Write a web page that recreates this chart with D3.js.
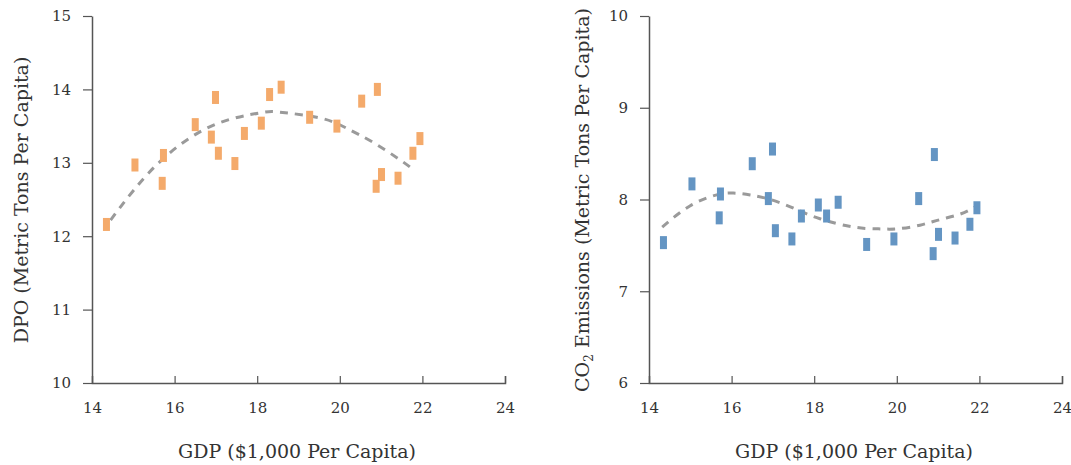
<!DOCTYPE html>
<html>
<head>
<meta charset="utf-8">
<script src="https://cdn.jsdelivr.net/npm/d3@7.9.0/dist/d3.min.js"></script>
<style>
  body { margin: 0; background: #fff; }
  text { font-family: "DejaVu Serif", "Liberation Serif", serif; fill: #333; }
</style>
</head>
<body>
<svg id="chart" width="1071" height="465"></svg>
<script>
// GDP per capita ($1,000), shared by both panels
const gdp = [14.35, 15.04, 15.70, 15.73, 16.50, 16.89, 16.99, 17.06, 17.46, 17.69, 18.10,
             18.30, 18.58, 19.27, 19.93, 20.53, 20.88, 20.91, 21.01, 21.41, 21.77, 21.94];

// left panel: DPO
const dpo = [12.16, 12.97, 12.72, 13.10, 13.52, 13.35, 13.89, 13.13, 12.99, 13.40, 13.54,
             13.93, 14.03, 13.62, 13.50, 13.84, 12.68, 14.00, 12.84, 12.79, 13.13, 13.33];

// right panel: CO2 emissions
const co2 = [7.53, 8.17, 7.80, 8.06, 8.39, 8.01, 8.55, 7.66, 7.57, 7.82, 7.94,
             7.82, 7.97, 7.51, 7.57, 8.01, 7.41, 8.49, 7.62, 7.58, 7.73, 7.91];

// dashed trend lines
const dpoTrendX = [14.45, 15.0, 15.77, 16.93, 18.07, 18.55, 19.52, 20.17, 20.80, 21.46, 21.75];
const dpoTrendY = [12.22, 12.62, 13.08, 13.51, 13.68, 13.69, 13.61, 13.47, 13.28, 13.04, 12.92];
const co2TrendX = [14.32, 14.99, 15.64, 16.04, 16.45, 17.01, 17.58, 18.14, 18.95, 19.55, 20.0, 20.56, 21.04, 21.53, 21.9];
const co2TrendY = [7.70, 7.93, 8.05, 8.07, 8.05, 7.99, 7.89, 7.79, 7.70, 7.68, 7.68, 7.72, 7.78, 7.84, 7.92];

const xTicks = [14, 16, 18, 20, 22, 24];
const dpoTicks = [10, 11, 12, 13, 14, 15];
const co2Ticks = [6, 7, 8, 9, 10];

const svg = d3.select('#chart');
const axisColor = '#555';
const fontFam = '"DejaVu Serif", "Liberation Serif", serif';

function panel(opts) {
  const x = d3.scaleLinear().domain([14, 24]).range([opts.left, opts.left + 413]);
  const y = d3.scaleLinear().domain(opts.yDomain).range([383, 16]);
  const g = svg.append('g');

  // x axis: ticks point up into the plot
  const xa = g.append('g')
    .attr('transform', 'translate(0,383)')
    .call(d3.axisBottom(x).tickValues(xTicks).tickSize(-7).tickPadding(19).tickFormat(d3.format('d')));
  xa.select('.domain').attr('stroke', axisColor).attr('stroke-width', 1.5);
  xa.selectAll('.tick line').attr('stroke', axisColor).attr('stroke-width', 1.2)
    .filter(d => d === 14).remove();
  xa.selectAll('.tick text').attr('font-size', 15).attr('fill', '#333')
    .attr('font-family', fontFam).attr('dy', '0.71em');

  // y axis: ticks point out
  const ya = g.append('g')
    .attr('transform', `translate(${opts.left},0)`)
    .call(d3.axisLeft(y).tickValues(opts.yTicks).tickSize(9).tickPadding(12).tickSizeOuter(0).tickFormat(d3.format('d')));
  ya.select('.domain').attr('stroke', axisColor).attr('stroke-width', 1.5);
  ya.selectAll('.tick line').attr('stroke', axisColor).attr('stroke-width', 1.2);
  ya.selectAll('.tick text').attr('font-size', 15).attr('fill', '#333')
    .attr('font-family', fontFam);

  // trend line
  const trend = opts.trendX.map((v, i) => [v, opts.trendY[i]]);
  g.append('path')
    .datum(trend)
    .attr('fill', 'none')
    .attr('stroke', '#9a9a9a')
    .attr('stroke-width', 3)
    .attr('stroke-dasharray', '8,7')
    .attr('d', d3.line().x(d => x(d[0])).y(d => y(d[1])).curve(d3.curveNatural));

  // points as small upright bars
  g.selectAll('rect.pt')
    .data(gdp.map((v, i) => [v, opts.values[i]]))
    .join('rect')
    .attr('class', 'pt')
    .attr('x', d => x(d[0]) - 3.5)
    .attr('y', d => y(d[1]) - 6.5)
    .attr('width', 7)
    .attr('height', 13)
    .attr('fill', opts.color);

  // axis titles
  g.append('text')
    .attr('x', opts.left + 205)
    .attr('y', 458)
    .attr('text-anchor', 'middle')
    .attr('font-size', 19)
    .text('GDP ($1,000 Per Capita)');

  const yt = g.append('text')
    .attr('transform', `translate(${opts.titleX},200) rotate(-90)`)
    .attr('text-anchor', 'middle')
    .attr('font-size', 19);
  opts.yTitle(yt);
}

panel({
  left: 92, yDomain: [10, 15], yTicks: dpoTicks, values: dpo, color: '#f4aa6b',
  trendX: dpoTrendX, trendY: dpoTrendY, titleX: 28,
  yTitle: t => t.text('DPO (Metric Tons Per Capita)')
});

panel({
  left: 649, yDomain: [6, 10], yTicks: co2Ticks, values: co2, color: '#6495c3',
  trendX: co2TrendX, trendY: co2TrendY, titleX: 589,
  yTitle: t => {
    t.append('tspan').text('CO');
    t.append('tspan').attr('font-size', 12).attr('dy', 4).text('2');
    t.append('tspan').attr('dy', -4).text(' Emissions (Metric Tons Per Capita)');
  }
});
</script>
</body>
</html>
